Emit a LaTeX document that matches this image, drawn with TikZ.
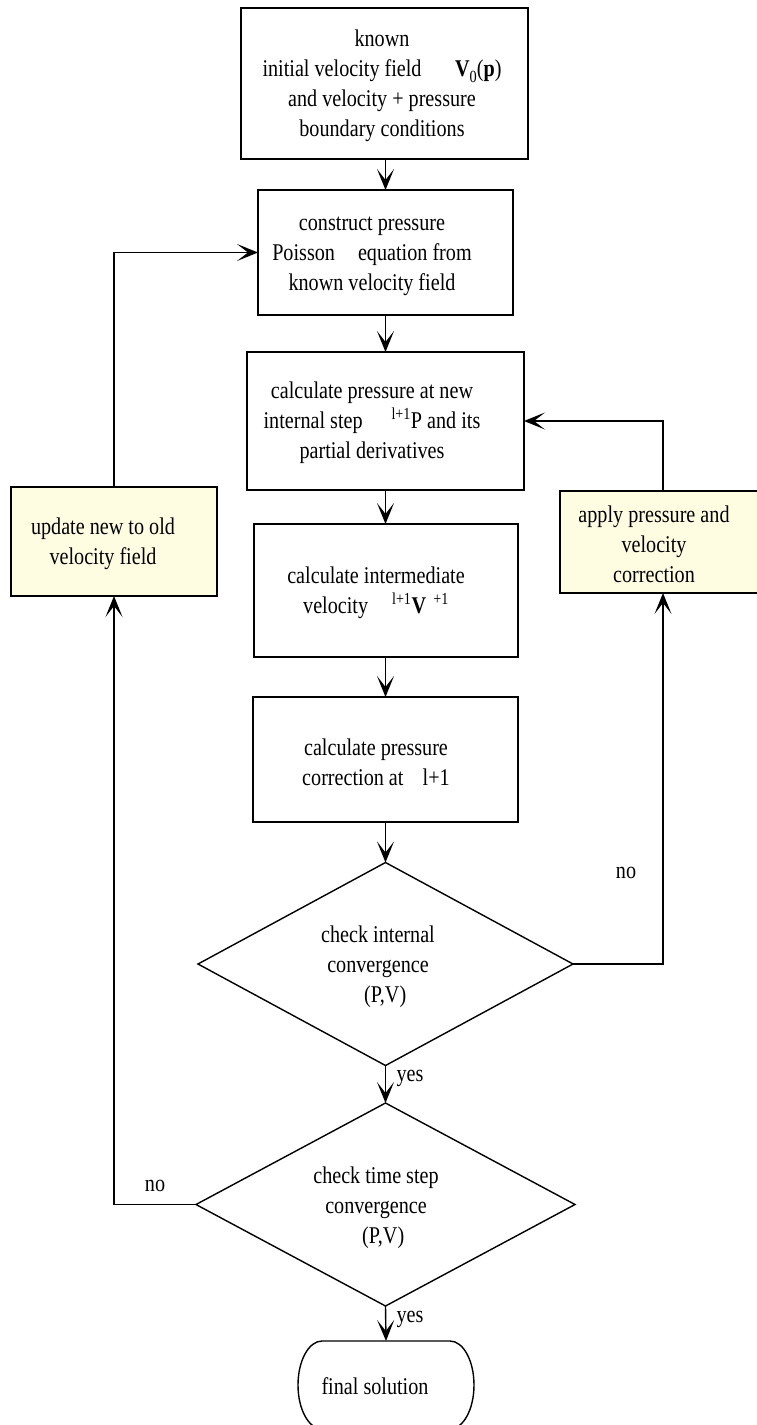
\documentclass[tikz,border=0pt]{standalone}
\usepackage{fontspec}
\setmainfont[FakeStretch=0.84]{Liberation Serif}
\usetikzlibrary{arrows.meta,shapes.geometric,calc}
\definecolor{noteyellow}{HTML}{FFFDE1}
\begin{document}
\begin{tikzpicture}[x=1pt,y=-1pt,
  line width=1.4pt,
  every node/.style={font=\fontsize{24}{30}\selectfont, inner sep=0pt, outer sep=0pt},
  procbox/.style={draw, rectangle, fill=white},
  notebox/.style={draw, rectangle, fill=noteyellow},
  decbox/.style={draw, diamond, fill=white},
  txt/.style={align=center},
  lbl/.style={},
  flow/.style={-{Stealth[length=21pt,width=17pt,inset=11pt]}}]
\useasboundingbox (0,0) rectangle (756,1425);

% boxes
\node[procbox, minimum width=287, minimum height=151] (b1) at (384.5,83.5) {};
\node[procbox, minimum width=255, minimum height=125] (b2) at (385.5,252.5) {};
\node[procbox, minimum width=277, minimum height=138] (b3) at (385.5,421) {};
\node[procbox, minimum width=264, minimum height=133] (b4) at (386,590.5) {};
\node[procbox, minimum width=265, minimum height=125] (b5) at (385.5,759.5) {};
\node[notebox, minimum width=206, minimum height=109] (ly) at (114,541.5) {};
\node[notebox, minimum width=206, minimum height=102] (ry) at (663,542) {};
\node[decbox, minimum width=375, minimum height=203] (d1) at (385.5,964) {};
\node[decbox, minimum width=379, minimum height=203] (d2) at (385.5,1204.5) {};
\node[minimum width=176, minimum height=88] (fin) at (386,1385) {};
\draw ([xshift=24pt]fin.north west) -- ([xshift=-24pt]fin.north east)
  arc[start angle=90, end angle=-90, x radius=24pt, y radius=44pt]
  -- ([xshift=24pt]fin.south west)
  arc[start angle=270, end angle=90, x radius=24pt, y radius=44pt] -- cycle;

% texts
\node[txt] (b1t) at (382,86) {known\\initial velocity field\hspace{1.4em}\textbf{V}\raisebox{-0.25em}{\fontsize{17}{17}\selectfont 0}(\textbf{p})\\and velocity + pressure\\boundary conditions};
\node[txt] (b2t) at (372,256) {construct pressure\\Poisson\hspace{0.75em} equation from\\known velocity field};
\node[txt] (b3t) at (372,423) {calculate pressure at new\\internal step\hspace{1.2em}\textsuperscript{l+1}P and its\\partial derivatives};
\node[txt] (b4t) at (376,593) {calculate intermediate\\velocity\hspace{1em}\textsuperscript{l+1}\textbf{V}\hspace{0.3em}\textsuperscript{+1}};
\node[txt] (b5t) at (376,762) {calculate pressure\\correction at\hspace{0.8em}l+1};
\node[txt] (lyt) at (103,544) {update new to old\\velocity field};
\node[txt] (ryt) at (654,544) {apply pressure and\\velocity\\correction};
\node[txt] (d1t) at (378,967) {check internal\\convergence\\\hspace{0.6em}(P,V)};
\node[txt] (d2t) at (376,1208) {check time step\\convergence\\\hspace{0.6em}(P,V)};
\node[txt] (fint) at (375,1386) {final solution};

% labels
\node[lbl] (no1) at (626,873) {no};
\node[lbl] (no2) at (155,1186) {no};
\node[lbl] (yes1) at (410,1078) {yes};
\node[lbl] (yes2) at (410,1319) {yes};

% connectors
\draw[flow] (b2.north |- b1.south) -- (b2.north);
\draw[flow] (b2.south) -- (b2.south |- b3.north);
\draw[flow] (b3.south) -- (b3.south |- b4.north);
\draw[flow] (b4.south -| b5.north) -- (b5.north);
\draw[flow] (b5.south -| d1.north) -- (d1.north);
\draw[flow] (d1.south) -- (d2.north);
\draw[flow] (d2.south) -- (fin.north);
\draw[flow] (d1.east) -| (ry.south);
\draw[flow] (ry.north) |- (b3.east);
\draw[flow] (d2.west) -| (ly.south);
\draw[flow] (ly.north) |- (b2.west);
\end{tikzpicture}
\end{document}
